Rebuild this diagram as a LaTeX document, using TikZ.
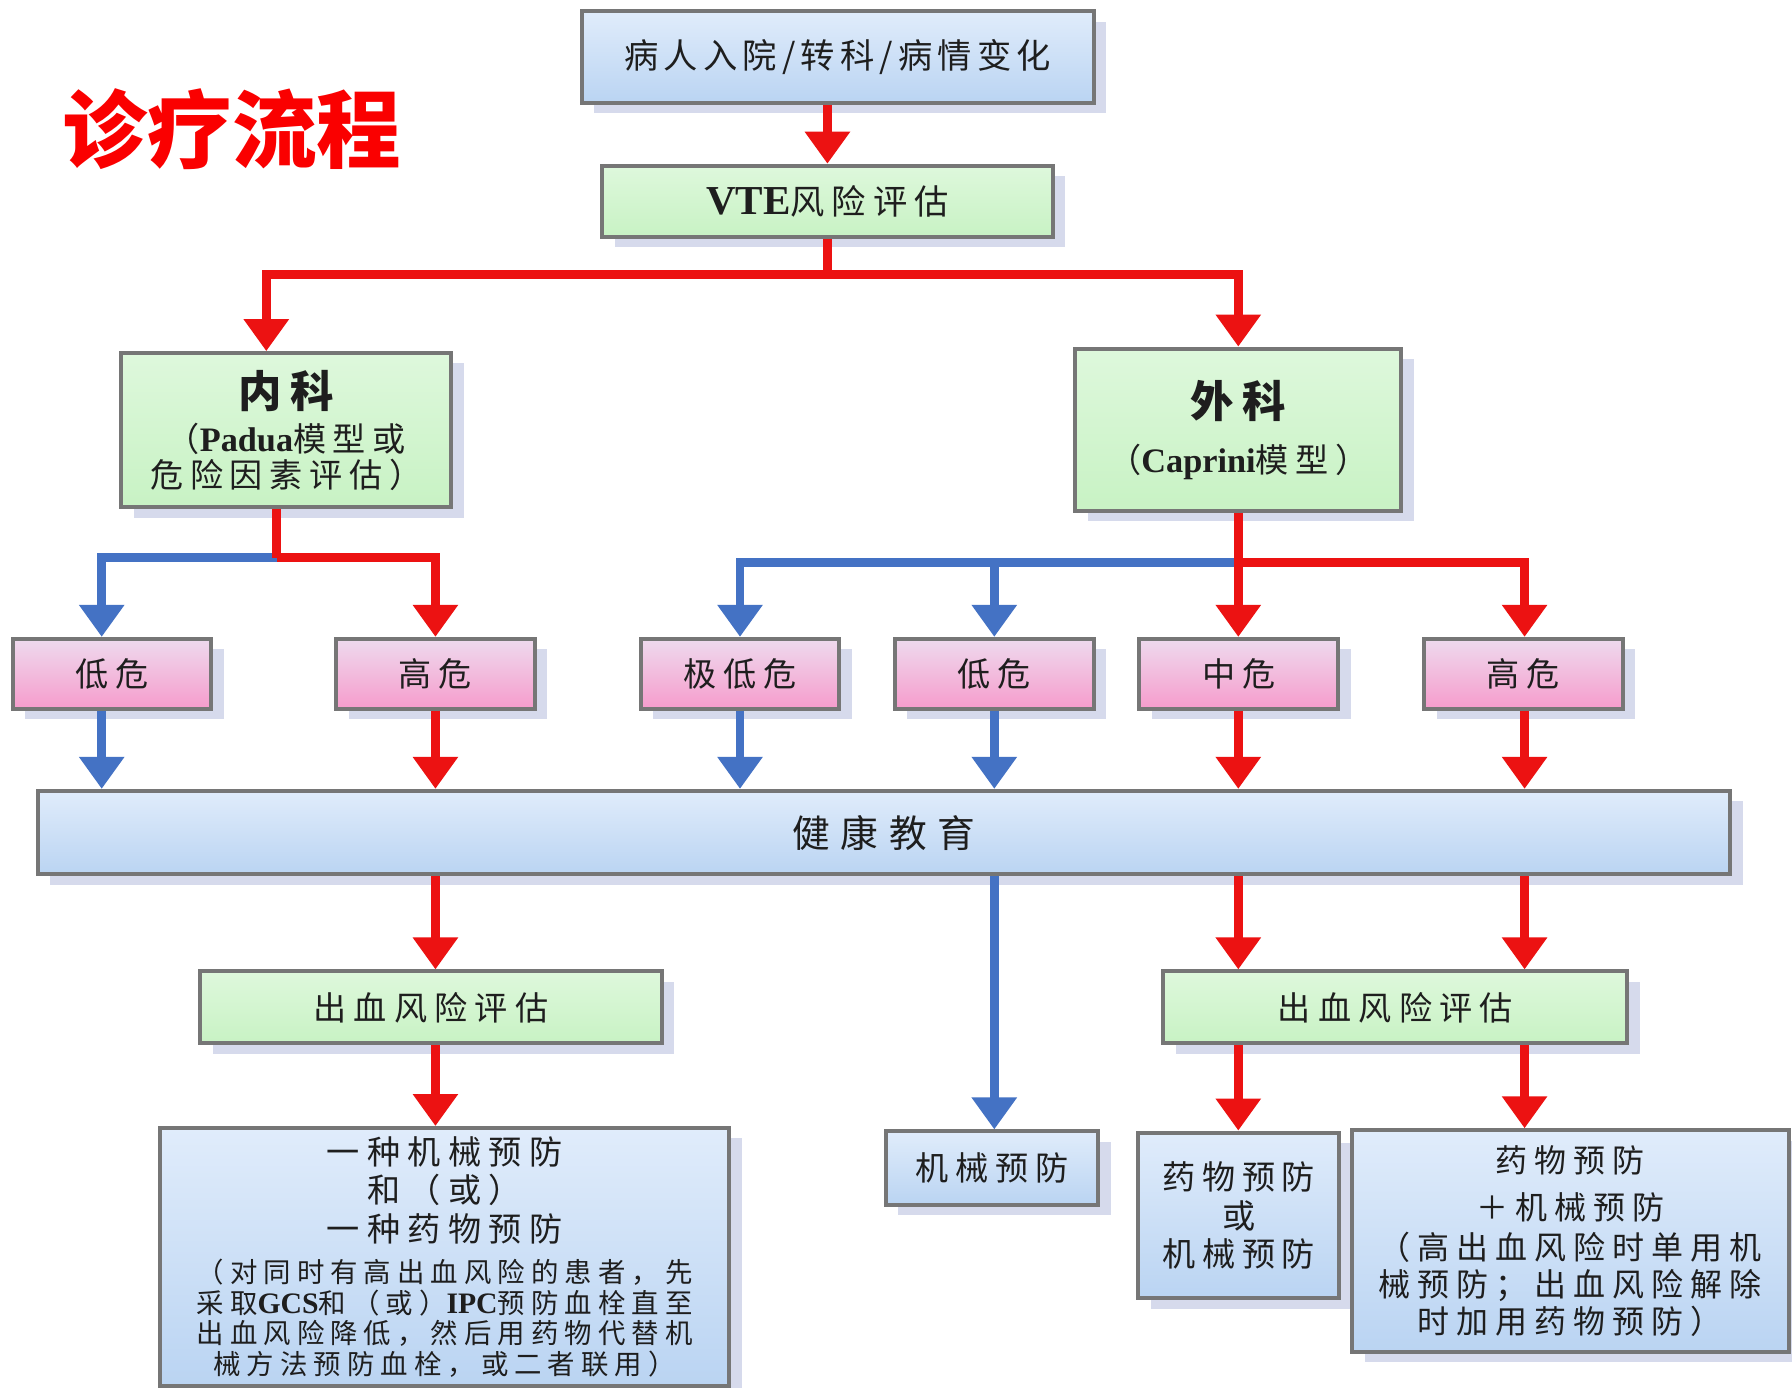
\documentclass[tikz,border=0pt]{standalone}
\usepackage{fontspec}
\setmainfont{Noto Sans CJK SC}
\newfontfamily\lat{Liberation Serif}
\usetikzlibrary{arrows.meta,shadows}
\definecolor{redc}{RGB}{236,18,18}
\definecolor{bluec}{RGB}{68,114,196}
\definecolor{boxgray}{RGB}{118,118,118}
\definecolor{shadowc}{RGB}{214,218,236}
\definecolor{blueT}{RGB}{224,236,251}
\definecolor{blueB}{RGB}{186,212,242}
\definecolor{greenT}{RGB}{222,248,220}
\definecolor{greenB}{RGB}{200,242,196}
\definecolor{pinkT}{RGB}{238,218,238}
\definecolor{pinkB}{RGB}{246,156,204}
\definecolor{txt}{RGB}{30,30,30}
\definecolor{titlered}{RGB}{250,0,0}
\newcommand{\fz}[3]{\addfontfeatures{LetterSpace=#3}\fontsize{#1pt}{#2pt}\selectfont}
\newcommand{\latin}[2]{{\lat\bfseries\fontsize{#1pt}{#1pt}\selectfont #2}}
\tikzset{
  box/.style={draw=boxgray, line width=3.5pt, inner sep=0pt, align=center, text=txt,
    drop shadow={shadow xshift=11pt, shadow yshift=-9pt, fill=shadowc, opacity=1}},
  bluebox/.style={box, top color=blueT, bottom color=blueB},
  greenbox/.style={box, top color=greenT, bottom color=greenB},
  pinkbox/.style={box, top color=pinkT, bottom color=pinkB, minimum width=174pt, minimum height=61pt},
  redline/.style={draw=redc, line width=7.5pt},
  blueline/.style={draw=bluec, line width=7.5pt},
  ra/.style={redline, -{Triangle[width=38pt,length=28pt]}},
  ba/.style={blueline, -{Triangle[width=38pt,length=28pt]}},
}
\begin{document}
\begin{tikzpicture}[x=1pt,y=-1pt]
\useasboundingbox (0,0) rectangle (1568,1214);
\fill[white] (0,0) rectangle (1568,1214);

% title
\node[text=titlered, inner sep=0pt] (title) at (203,113) {\fontsize{74pt}{80pt}\selectfont\bfseries 诊疗流程};

% boxes
\node[bluebox, minimum width=448pt, minimum height=80pt] (top) at (733,50)
  {\fz{30}{34}{15}病人入院/转科/病情变化};
\node[greenbox, minimum width=394pt, minimum height=62pt] (vte) at (724,176)
  {\fz{30}{34}{20}\latin{36}{VTE}风险评估};
\node[greenbox, minimum width=289pt, minimum height=135pt, text width=282pt] (nei) at (250.5,376.5)
  {{\fz{38}{40}{18}\bfseries 内科\par}\vspace{8pt}%
   {\fz{29}{31}{20}（\latin{30}{Padua}模型或\\危险因素评估）\par}};
\node[greenbox, minimum width=285pt, minimum height=142pt, text width=278pt] (wai) at (1083.5,376)
  {{\fz{38}{40}{18}\bfseries 外科\par}\vspace{17pt}%
   {\fz{29}{31}{20}（\latin{30}{Caprini}模型）\par}};

\node[pinkbox] (L1) at (98,589.5) {\fz{29}{32}{20}低危};
\node[pinkbox] (L2) at (381,589.5) {\fz{29}{32}{20}高危};
\node[pinkbox] (R1) at (647.5,589.5) {\fz{29}{32}{20}极低危};
\node[pinkbox] (R2) at (870,589.5) {\fz{29}{32}{20}低危};
\node[pinkbox] (R3) at (1084,589.5) {\fz{29}{32}{20}中危};
\node[pinkbox] (R4) at (1333,589.5) {\fz{29}{32}{20}高危};

\node[bluebox, minimum width=1481pt, minimum height=73pt] (hj) at (773.5,728.5)
  {\fz{33}{36}{28}健康教育};

\node[greenbox, minimum width=404pt, minimum height=63pt] (bl) at (377,881.5)
  {\fz{29}{32}{22}出血风险评估};
\node[greenbox, minimum width=406pt, minimum height=63pt] (br) at (1221,881.5)
  {\fz{29}{32}{22}出血风险评估};
\node[bluebox, minimum width=186pt, minimum height=64pt] (mech) at (868,1022)
  {\fz{29}{32}{20}机械预防};
\node[bluebox, minimum width=498pt, minimum height=226pt, text width=490pt] (big) at (389,1100)
  {{\fz{29}{33.5}{22}一种机械预防\\和（或）\\一种药物预防\par}\vspace{9pt}%
   {\fz{24}{27}{22}（对同时有高出血风险的患者，先\\采取\latin{26}{GCS}和（或）\latin{26}{IPC}预防血栓直至\\出血风险降低，然后用药物代替机\\械方法预防血栓，或二者联用）\par}};
\node[bluebox, minimum width=176pt, minimum height=145pt, text width=170pt] (mid) at (1084,1063.5)
  {{\fz{29}{33.5}{20}药物预防\\或\\机械预防\par}};
\node[bluebox, minimum width=382pt, minimum height=194pt, text width=376pt] (far) at (1374,1086)
  {{\fz{28}{41}{22}药物预防\\＋机械预防\par}\vspace{2pt}%
   {\fz{28}{32.5}{22}（高出血风险时单用机\\械预防；出血风险解除\\时加用药物预防）\par}};

% column coordinates
\coordinate (cA) at (89,0);
\coordinate (cB) at (381,0);
\coordinate (cC) at (647.5,0);
\coordinate (cD) at (870,0);
\coordinate (cE) at (1083.5,0);
\coordinate (cF) at (1334,0);
\coordinate (cN) at (242,0);
\coordinate (cM) at (233,0);
\coordinate (cV) at (724,0);
\coordinate (j1) at (724,240);
\coordinate (j2) at (242,488);
\coordinate (j3) at (1083.5,492);

% connectors
\draw[ra] (top.south -| cV) -- (vte.north);
\draw[redline] (vte.south) -- (j1);
\draw[ra] (j1) -| (nei.north -| cM);
\draw[ra] (j1) -| (wai.north);

\draw[ba] (j2) -| (L1.north -| cA);
\draw[redline] (nei.south -| cN) -- (j2);
\draw[ra] (j2) -| (L2.north);

\draw[ba] (j3) -| (R1.north);
\draw[ba] (j3 -| cD) -- (R2.north);
\draw[ra] (j3) -| (R4.north -| cF);
\draw[ra] (wai.south) -- (R3.north -| cE);

\draw[ba] (L1.south -| cA) -- (hj.north -| cA);
\draw[ra] (L2.south -| cB) -- (hj.north -| cB);
\draw[ba] (R1.south -| cC) -- (hj.north -| cC);
\draw[ba] (R2.south -| cD) -- (hj.north -| cD);
\draw[ra] (R3.south -| cE) -- (hj.north -| cE);
\draw[ra] (R4.south -| cF) -- (hj.north -| cF);

\draw[ra] (hj.south -| cB) -- (bl.north -| cB);
\draw[ba] (hj.south -| cD) -- (mech.north -| cD);
\draw[ra] (hj.south -| cE) -- (br.north -| cE);
\draw[ra] (hj.south -| cF) -- (br.north -| cF);

\draw[ra] (bl.south -| cB) -- (big.north -| cB);
\draw[ra] (br.south -| cE) -- (mid.north -| cE);
\draw[ra] (br.south -| cF) -- (far.north -| cF);
\end{tikzpicture}
\end{document}
